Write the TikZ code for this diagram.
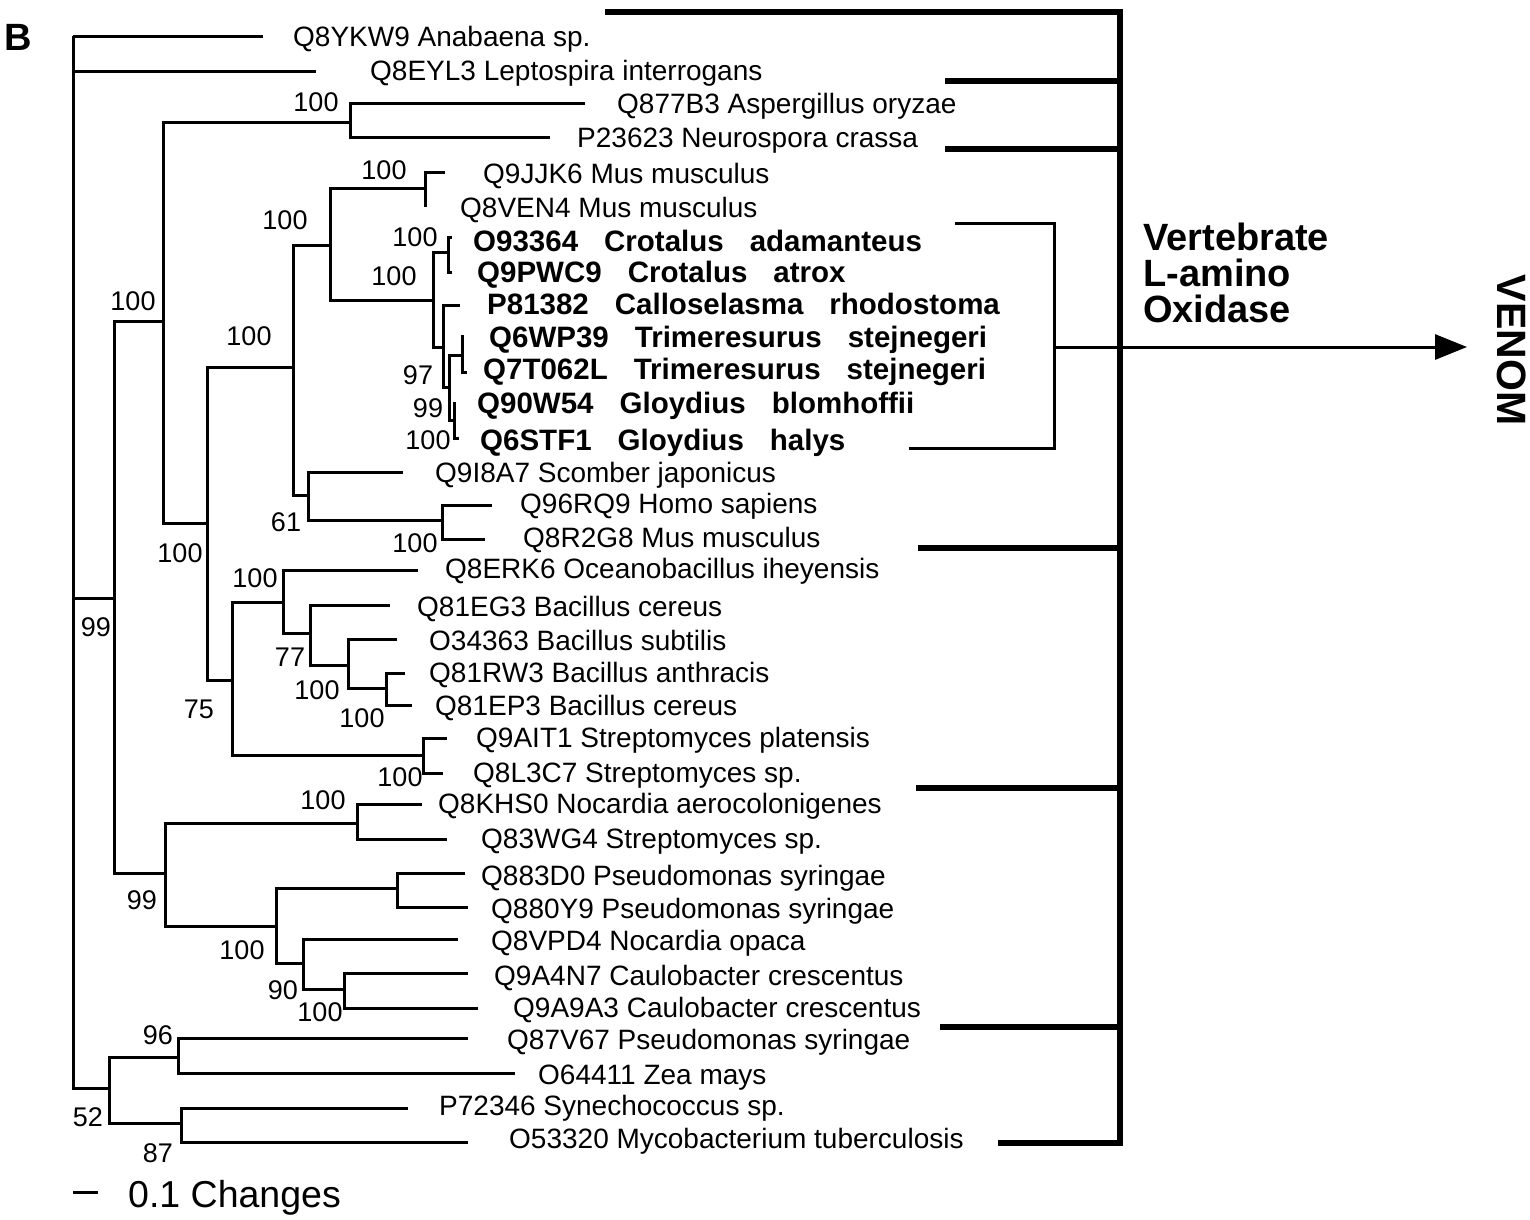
\documentclass[tikz,border=0pt]{standalone}
\usepackage{fontspec}
\setmainfont{Liberation Sans}
\usetikzlibrary{arrows.meta}
\newcommand\gapw{\hspace{26pt}}
\begin{document}
\begin{tikzpicture}[x=1pt,y=-1pt,
  br/.style={line width=3pt, line join=miter},
  grp/.style={line width=5.5pt, line join=miter},
  leaf/.style={anchor=west, inner sep=0pt, font=\fontsize{28}{30}\selectfont, text height=20pt, text depth=0pt},
  vleaf/.style={anchor=west, inner sep=0pt, font=\fontsize{29.5}{31}\selectfont\bfseries, text height=21pt, text depth=0pt},
  boot/.style={inner sep=0pt, font=\fontsize{27}{29}\selectfont, text height=19.5pt, text depth=0pt},
  bigb/.style={inner sep=0pt, font=\fontsize{38}{40}\selectfont\bfseries, text height=27pt, text depth=0pt},
  side/.style={anchor=west, inner sep=0pt, font=\fontsize{38}{40}\selectfont\bfseries, text height=27pt, text depth=0pt}]
\useasboundingbox (0,0) rectangle (1530,1219);
% internal nodes
\coordinate (R) at (73,36);
\coordinate (A) at (114,598);
\coordinate (C) at (163,321);
\coordinate (E) at (350,122);
\coordinate (F) at (207,523);
\coordinate (G) at (293,367);
\coordinate (I) at (330,245);
\coordinate (K) at (425,188);
\coordinate (S) at (433,300);
\coordinate (S1) at (448,252);
\coordinate (S2) at (443,347);
\coordinate (S3) at (449,387);
\coordinate (S4) at (462,355);
\coordinate (S5) at (454,420);
\coordinate (J) at (308,495);
\coordinate (L) at (442,520);
\coordinate (H) at (232,680);
\coordinate (M) at (283,602);
\coordinate (O) at (310,633);
\coordinate (P) at (348,665);
\coordinate (Q) at (386,688);
\coordinate (N) at (423,755);
\coordinate (D) at (165,873);
\coordinate (T) at (357,823);
\coordinate (U) at (276,926);
\coordinate (V) at (397,888);
\coordinate (W) at (303,963);
\coordinate (X) at (344,989);
\coordinate (B) at (109,1088);
\coordinate (Y) at (178,1057);
\coordinate (Z) at (181,1123);
% tips
\coordinate (t1) at (263,36);
\coordinate (t2) at (316,71);
\coordinate (t3) at (585,103);
\coordinate (t4) at (550,137);
\coordinate (t5) at (445,172);
\coordinate (t6) at (425,207);
\coordinate (t7) at (452,237);
\coordinate (t8) at (452,272);
\coordinate (t9) at (460,305);
\coordinate (t10) at (462,335);
\coordinate (t11) at (467,372);
\coordinate (t12) at (454,402);
\coordinate (t13) at (459,438);
\coordinate (t14) at (403,472);
\coordinate (t15) at (492,505);
\coordinate (t16) at (485,539);
\coordinate (t17) at (418,570);
\coordinate (t18) at (390,605);
\coordinate (t19) at (397,639);
\coordinate (t20) at (405,673);
\coordinate (t21) at (412,705);
\coordinate (t22) at (447,738);
\coordinate (t23) at (443,773);
\coordinate (t24) at (422,804);
\coordinate (t25) at (447,839);
\coordinate (t26) at (465,873);
\coordinate (t27) at (468,907);
\coordinate (t28) at (458,939);
\coordinate (t29) at (468,973);
\coordinate (t30) at (478,1008);
\coordinate (t31) at (468,1038);
\coordinate (t32) at (515,1073);
\coordinate (t33) at (408,1108);
\coordinate (t34) at (468,1142);
% branches
\draw[br] (R) |- (t1);  \draw[br] (R) |- (t2);  \draw[br] (R) |- (A);  \draw[br] (R) |- (B);
\draw[br] (A) |- (C);   \draw[br] (A) |- (D);
\draw[br] (C) |- (E);   \draw[br] (C) |- (F);
\draw[br] (E) |- (t3);  \draw[br] (E) |- (t4);
\draw[br] (F) |- (G);   \draw[br] (F) |- (H);
\draw[br] (G) |- (I);   \draw[br] (G) |- (J);
\draw[br] (I) |- (K);   \draw[br] (I) |- (S);
\draw[br] (K) |- (t5);  \draw[br] (K) |- (t6);
\draw[br] (S) |- (S1);  \draw[br] (S) |- (S2);
\draw[br] (S1) |- (t7); \draw[br] (S1) |- (t8);
\draw[br] (S2) |- (t9); \draw[br] (S2) |- (S3);
\draw[br] (S3) |- (S4); \draw[br] (S3) |- (S5);
\draw[br] (S4) |- (t10); \draw[br] (S4) |- (t11);
\draw[br] (S5) |- (t12); \draw[br] (S5) |- (t13);
\draw[br] (J) |- (t14); \draw[br] (J) |- (L);
\draw[br] (L) |- (t15); \draw[br] (L) |- (t16);
\draw[br] (H) |- (M);   \draw[br] (H) |- (N);
\draw[br] (M) |- (t17); \draw[br] (M) |- (O);
\draw[br] (O) |- (t18); \draw[br] (O) |- (P);
\draw[br] (P) |- (t19); \draw[br] (P) |- (Q);
\draw[br] (Q) |- (t20); \draw[br] (Q) |- (t21);
\draw[br] (N) |- (t22); \draw[br] (N) |- (t23);
\draw[br] (D) |- (T);   \draw[br] (D) |- (U);
\draw[br] (T) |- (t24); \draw[br] (T) |- (t25);
\draw[br] (U) |- (V);   \draw[br] (U) |- (W);
\draw[br] (V) |- (t26); \draw[br] (V) |- (t27);
\draw[br] (W) |- (t28); \draw[br] (W) |- (X);
\draw[br] (X) |- (t29); \draw[br] (X) |- (t30);
\draw[br] (B) |- (Y);   \draw[br] (B) |- (Z);
\draw[br] (Y) |- (t31); \draw[br] (Y) |- (t32);
\draw[br] (Z) |- (t33); \draw[br] (Z) |- (t34);
% leaf labels
\node[leaf] (l1) at (293,36) {Q8YKW9 Anabaena sp.};
\node[leaf] (l2) at (370,70) {Q8EYL3 Leptospira interrogans};
\node[leaf] (l3) at (617,103) {Q877B3 Aspergillus oryzae};
\node[leaf] (l4) at (577,137) {P23623 Neurospora crassa};
\node[leaf] (l5) at (483,173) {Q9JJK6 Mus musculus};
\node[leaf] (l6) at (460,207) {Q8VEN4 Mus musculus};
\node[vleaf] (l7) at (473,241) {O93364\gapw Crotalus\gapw adamanteus};
\node[vleaf] (l8) at (477,272) {Q9PWC9\gapw Crotalus\gapw atrox};
\node[vleaf] (l9) at (487,304) {P81382\gapw Calloselasma\gapw rhodostoma};
\node[vleaf] (l10) at (489,337) {Q6WP39\gapw Trimeresurus\gapw stejnegeri};
\node[vleaf] (l11) at (483,369) {Q7T062L\gapw Trimeresurus\gapw stejnegeri};
\node[vleaf] (l12) at (477,403) {Q90W54\gapw Gloydius\gapw blomhoffii};
\node[vleaf] (l13) at (480,440) {Q6STF1\gapw Gloydius\gapw halys};
\node[leaf] (l14) at (435,472) {Q9I8A7 Scomber japonicus};
\node[leaf] (l15) at (520,503) {Q96RQ9 Homo sapiens};
\node[leaf] (l16) at (523,537) {Q8R2G8 Mus musculus};
\node[leaf] (l17) at (445,568) {Q8ERK6 Oceanobacillus iheyensis};
\node[leaf] (l18) at (417,606) {Q81EG3 Bacillus cereus};
\node[leaf] (l19) at (429,640) {O34363 Bacillus subtilis};
\node[leaf] (l20) at (429,672) {Q81RW3 Bacillus anthracis};
\node[leaf] (l21) at (435,705) {Q81EP3 Bacillus cereus};
\node[leaf] (l22) at (476,737) {Q9AIT1 Streptomyces platensis};
\node[leaf] (l23) at (473,772) {Q8L3C7 Streptomyces sp.};
\node[leaf] (l24) at (438,803) {Q8KHS0 Nocardia aerocolonigenes};
\node[leaf] (l25) at (481,838) {Q83WG4 Streptomyces sp.};
\node[leaf] (l26) at (481,875) {Q883D0 Pseudomonas syringae};
\node[leaf] (l27) at (491,908) {Q880Y9 Pseudomonas syringae};
\node[leaf] (l28) at (491,940) {Q8VPD4 Nocardia opaca};
\node[leaf] (l29) at (494,975) {Q9A4N7 Caulobacter crescentus};
\node[leaf] (l30) at (513,1007) {Q9A9A3 Caulobacter crescentus};
\node[leaf] (l31) at (507,1039) {Q87V67 Pseudomonas syringae};
\node[leaf] (l32) at (538,1074) {O64411 Zea mays};
\node[leaf] (l33) at (439,1105) {P72346 Synechococcus sp.};
\node[leaf] (l34) at (509,1138) {O53320 Mycobacterium tuberculosis};
% bootstrap values
\node[boot] (b1) at (316,102) {100};
\node[boot] (b2) at (384,170) {100};
\node[boot] (b3) at (285,220) {100};
\node[boot] (b4) at (415,237) {100};
\node[boot] (b5) at (394,276) {100};
\node[boot] (b6) at (418,375) {97};
\node[boot] (b7) at (428,408) {99};
\node[boot] (b8) at (428,440) {100};
\node[boot] (b9) at (133,301) {100};
\node[boot] (b10) at (249,336) {100};
\node[boot] (b11) at (286,522) {61};
\node[boot] (b12) at (415,543) {100};
\node[boot] (b13) at (180,553) {100};
\node[boot] (b14) at (255,578) {100};
\node[boot] (b15) at (96,627) {99};
\node[boot] (b16) at (290,657) {77};
\node[boot] (b17) at (317,690) {100};
\node[boot] (b18) at (199,709) {75};
\node[boot] (b19) at (362,718) {100};
\node[boot] (b20) at (400,777) {100};
\node[boot] (b21) at (323,800) {100};
\node[boot] (b22) at (142,900) {99};
\node[boot] (b23) at (242,950) {100};
\node[boot] (b24) at (283,990) {90};
\node[boot] (b25) at (320,1012) {100};
\node[boot] (b26) at (158,1035) {96};
\node[boot] (b27) at (88,1117) {52};
\node[boot] (b28) at (158,1153) {87};
% panel letter and scale
\node[bigb] (panel) at (18,37) {B};
\coordinate (sc1) at (73,1192);
\coordinate (sc2) at (98,1192);
\draw[line width=3pt] (sc1) -- (sc2);
\node[anchor=west, inner sep=0pt, font=\fontsize{37.5}{40}\selectfont, text height=27pt, text depth=0pt] (scl) at (128,1194) {0.1 Changes};
% group bars
\coordinate (g0) at (605,12);
\coordinate (gt) at (1120,12);
\coordinate (gb) at (1120,1143);
\coordinate (g7) at (998,1143);
\draw[grp] (g0) -- (gt) -- (gb) -- (g7);
\coordinate (g1) at (945,81);   \coordinate (h1) at (1120,81);
\coordinate (g2) at (945,149);  \coordinate (h2) at (1120,149);
\coordinate (g3) at (918,548);  \coordinate (h3) at (1120,548);
\coordinate (g4) at (916,788);  \coordinate (h4) at (1120,788);
\coordinate (g5) at (940,1027); \coordinate (h5) at (1120,1027);
\draw[grp] (g1) -- (h1);
\draw[grp] (g2) -- (h2);
\draw[grp] (g3) -- (h3);
\draw[grp] (g4) -- (h4);
\draw[grp] (g5) -- (h5);
% venom bracket and arrow
\coordinate (k1) at (955,223);
\coordinate (k2) at (1054,223);
\coordinate (k3) at (1054,448);
\coordinate (k4) at (909,448);
\coordinate (ka) at (1054,347);
\coordinate (kt) at (1467,347);
\draw[br] (k1) -- (k2) -- (k3) -- (k4);
\draw[br, -{Triangle[length=32pt 0 0, width=25pt 0 0]}] (ka) -- (kt);
\node[side] (v1) at (1143,237) {Vertebrate};
\node[side] (v2) at (1143,273) {L-amino};
\node[side] (v3) at (1143,309) {Oxidase};
\node[rotate=-90, inner sep=0pt, font=\fontsize{41}{44}\selectfont\bfseries, text height=29.5pt, text depth=0pt] (venom) at (1512,350) {VENOM};
\end{tikzpicture}
\end{document}
